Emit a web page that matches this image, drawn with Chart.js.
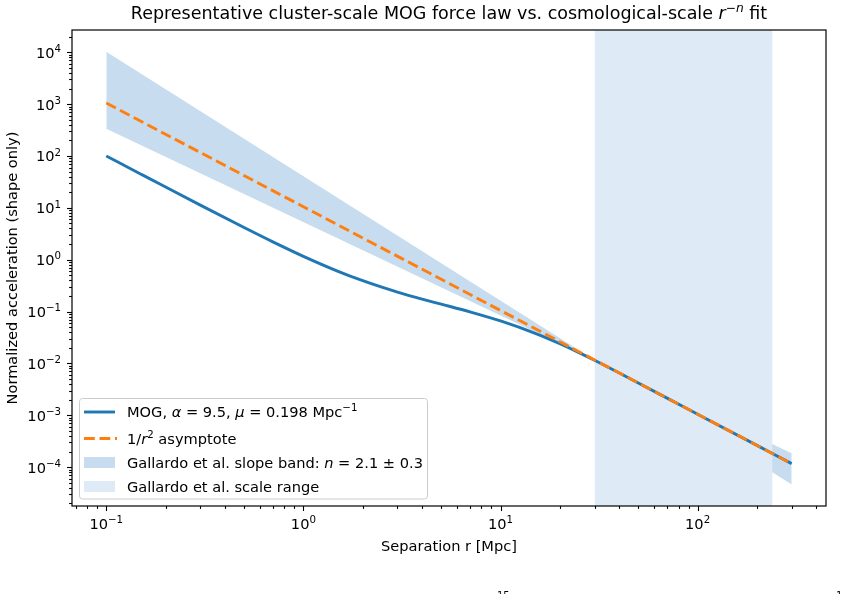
<!DOCTYPE html>
<html>
<head>
<meta charset="utf-8">
<script src="https://cdn.jsdelivr.net/npm/chart.js@4.4.1/dist/chart.umd.min.js"></script>
<style>
  body { margin: 0; background: #fff; }
  #wrap { width: 847px; height: 594px; }
</style>
</head>
<body>
<div id="wrap"><canvas id="chart" width="847" height="594"></canvas></div>
<script>
// values
const rMog = [0.1, 0.15, 0.2, 0.3, 0.5, 0.7, 1, 1.5, 2, 2.5, 3, 4, 5, 7, 10, 15, 20, 25, 30, 50, 70, 100, 200, 300];
const accMog = [100.2, 44.63, 25.18, 11.29, 4.174, 2.211, 1.163, 0.5978, 0.3937, 0.2948, 0.2377, 0.1743, 0.1390, 0.09859,
  0.06591, 0.03807, 0.02400, 0.01616, 0.01147, 0.004198, 0.002143, 0.00105, 0.0002625, 0.0001167];

const rAsym = [0.1, 1, 10, 100, 300];
const accAsym = [1050, 10.5, 0.105, 0.00105, 0.0001167];

const rBand = [0.1, 30, 300];
const bandHi = [10280, 0.01167, 0.0001849];
const bandLo = [335.6, 0.01167, 0.00004646];

const scaleRange = [30, 240];

const xTicks = [0.1, 1, 10, 100];
const xTickExp = ['−1', '0', '1', '2'];
const yTicks = [1e-4, 1e-3, 1e-2, 1e-1, 1, 10, 100, 1000, 10000];
const yTickExp = ['−4', '−3', '−2', '−1', '0', '1', '2', '3', '4'];

const X_MIN = 0.067, X_MAX = 448;
const Y_MIN = 1.78e-5, Y_MAX = 2.69e4;

const FONT = '"DejaVu Sans", sans-serif';
const BLUE = '#1f77b4', ORANGE = '#ff7f0e';
const BAND = 'rgb(199,220,238)', SPAN = 'rgb(222,234,245)';

const pts = (xs, ys) => xs.map((x, i) => ({ x: x, y: ys[i] }));

// draw text made of plain / italic / superscript pieces
function rich(ctx, parts, x, y, size, align) {
  const segs = parts.map(([t, s]) => {
    const sup = s.indexOf('s') >= 0, it = s.indexOf('i') >= 0;
    const f = (it ? 'italic ' : '') + (sup ? size * 0.7 : size) + 'px ' + FONT;
    ctx.font = f;
    return { t: t, f: f, w: ctx.measureText(t).width, dy: sup ? -size * 0.4 : 0 };
  });
  const total = segs.reduce((a, s) => a + s.w, 0);
  let cx = x;
  if (align === 'center') cx = x - total / 2;
  if (align === 'right') cx = x - total;
  ctx.textAlign = 'left';
  ctx.textBaseline = 'alphabetic';
  segs.forEach(s => { ctx.font = s.f; ctx.fillText(s.t, cx, y + s.dy); cx += s.w; });
}

const decor = {
  id: 'decor',
  afterDraw(chart) {
    const ctx = chart.ctx, a = chart.chartArea;
    const xs = chart.scales.x, ys = chart.scales.y;
    ctx.save();
    ctx.fillStyle = '#000';
    ctx.strokeStyle = '#000';

    // ticks
    ctx.lineWidth = 1.1;
    for (let e = -2; e <= 4; e++) {
      for (let m = 1; m <= 9; m++) {
        const v = m * Math.pow(10, e);
        if (v < X_MIN || v > X_MAX) continue;
        const px = Math.round(xs.getPixelForValue(v)) + 0.5;
        ctx.beginPath(); ctx.moveTo(px, a.bottom); ctx.lineTo(px, a.bottom + (m === 1 ? 5 : 2.9)); ctx.stroke();
      }
    }
    for (let e = -5; e <= 4; e++) {
      for (let m = 1; m <= 9; m++) {
        const v = m * Math.pow(10, e);
        if (v < Y_MIN || v > Y_MAX) continue;
        const py = Math.round(ys.getPixelForValue(v)) + 0.5;
        ctx.beginPath(); ctx.moveTo(a.left, py); ctx.lineTo(a.left - (m === 1 ? 5 : 2.9), py); ctx.stroke();
      }
    }

    // tick labels
    xTicks.forEach((v, i) => {
      rich(ctx, [['10', ''], [xTickExp[i], 's']], xs.getPixelForValue(v), a.bottom + 23, 14.6, 'center');
    });
    yTicks.forEach((v, i) => {
      rich(ctx, [['10', ''], [yTickExp[i], 's']], a.left - 11, ys.getPixelForValue(v) + 5.5, 14.6, 'right');
    });

    // frame
    ctx.lineWidth = 1.2;
    ctx.strokeRect(a.left, a.top, a.right - a.left, a.bottom - a.top);

    // title
    rich(ctx, [['Representative cluster-scale MOG force law vs. cosmological-scale ', ''], ['r', 'i'], ['−', 's'], ['n', 'si'], [' fit', '']],
      (a.left + a.right) / 2, 19, 17.5, 'center');

    // legend
    const L = { x: 79.5, y: 398.5, w: 348, h: 100.5 };
    ctx.beginPath();
    ctx.roundRect(L.x, L.y, L.w, L.h, 3);
    ctx.fillStyle = 'rgba(255,255,255,0.8)';
    ctx.fill();
    ctx.strokeStyle = '#cccccc';
    ctx.lineWidth = 1;
    ctx.stroke();

    const hx0 = 84, hx1 = 115, tx = 127;
    const rows = [412, 438.5, 462.5, 486.5];
    ctx.lineWidth = 2.9;
    ctx.strokeStyle = BLUE;
    ctx.beginPath(); ctx.moveTo(hx0, rows[0]); ctx.lineTo(hx1, rows[0]); ctx.stroke();
    ctx.strokeStyle = ORANGE;
    ctx.setLineDash([10.8, 4.7]);
    ctx.beginPath(); ctx.moveTo(hx0, rows[1]); ctx.lineTo(hx1 + 2, rows[1]); ctx.stroke();
    ctx.setLineDash([]);
    ctx.fillStyle = BAND;
    ctx.fillRect(hx0, rows[2] - 5.5, hx1 - hx0, 11);
    ctx.fillStyle = SPAN;
    ctx.fillRect(hx0, rows[3] - 5.5, hx1 - hx0, 11);

    ctx.fillStyle = '#000';
    const fs = 14.6;
    rich(ctx, [['MOG, ', ''], ['α', 'i'], [' = 9.5, ', ''], ['μ', 'i'], [' = 0.198 Mpc', ''], ['−1', 's']], tx, rows[0] + 5, fs);
    rich(ctx, [['1/', ''], ['r', 'i'], ['2', 's'], [' asymptote', '']], tx, rows[1] + 5, fs);
    rich(ctx, [['Gallardo et al. slope band: ', ''], ['n', 'i'], [' = 2.1 ± 0.3', '']], tx, rows[2] + 5, fs);
    rich(ctx, [['Gallardo et al. scale range', '']], tx, rows[3] + 5, fs);

    // cut-off text at the very bottom edge
    ctx.font = '10px ' + FONT;
    ctx.textBaseline = 'top';
    ctx.fillText('15', 497, 591);
    ctx.fillText('1', 836, 591);
    ctx.restore();
  }
};

new Chart(document.getElementById('chart'), {
  type: 'line',
  data: {
    datasets: [
      { label: '1/r² asymptote', data: pts(rAsym, accAsym), borderColor: ORANGE, borderWidth: 2.9,
        borderDash: [10.8, 4.7], pointRadius: 0, fill: false, order: 0 },
      { label: 'MOG', data: pts(rMog, accMog), borderColor: BLUE, borderWidth: 2.9, pointRadius: 0,
        cubicInterpolationMode: 'monotone', fill: false, order: 1 },
      { label: 'Gallardo et al. scale range', data: scaleRange.map(x => ({ x: x, y: Y_MAX })), borderWidth: 0,
        pointRadius: 0, fill: 'start', backgroundColor: SPAN, order: 2 },
      { label: 'band upper', data: pts(rBand, bandHi), borderWidth: 0, pointRadius: 0, fill: '+1',
        backgroundColor: BAND, order: 3 },
      { label: 'band lower', data: pts(rBand, bandLo), borderWidth: 0, pointRadius: 0, fill: false, order: 4 }
    ]
  },
  options: {
    responsive: false,
    animation: false,
    events: [],
    layout: { padding: { top: 30, right: 21, left: 0, bottom: 0 } },
    plugins: { legend: { display: false }, tooltip: { enabled: false } },
    scales: {
      x: {
        type: 'logarithmic', min: X_MIN, max: X_MAX,
        afterFit(s) { s.height = 88; },
        afterBuildTicks(s) { s.ticks = xTicks.map(v => ({ value: v })); },
        grid: { display: false },
        border: { display: false },
        ticks: { display: false },
        title: { display: true, text: 'Separation r [Mpc]', color: '#000',
          font: { family: FONT, size: 14.6 }, padding: { top: 0, bottom: 38 } }
      },
      y: {
        type: 'logarithmic', min: Y_MIN, max: Y_MAX,
        afterFit(s) { s.width = 72; },
        afterBuildTicks(s) { s.ticks = yTicks.map(v => ({ value: v })); },
        grid: { display: false },
        border: { display: false },
        ticks: { display: false },
        title: { display: true, text: 'Normalized acceleration (shape only)', color: '#000',
          font: { family: FONT, size: 14.6 }, padding: { top: 4, bottom: 0 } }
      }
    }
  },
  plugins: [decor]
});
</script>
</body>
</html>
